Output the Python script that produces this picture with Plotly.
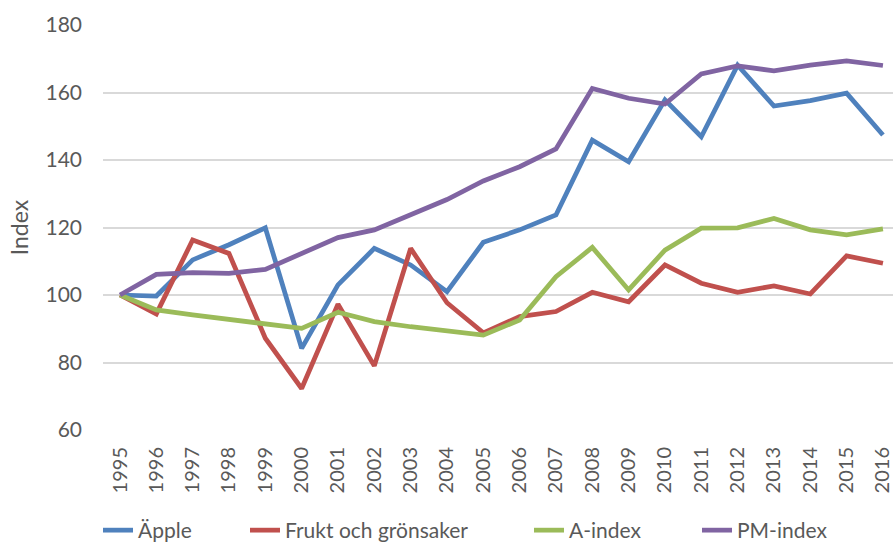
import plotly.graph_objects as go

years = list(range(1995, 2017))
year_labels = [str(y) for y in years]

apple = [100, 99.7, 110.4, 114.9, 119.9, 84.2, 103.0, 113.8, 108.9, 101.0, 115.6,
         119.3, 123.7, 145.9, 139.5, 157.8, 146.9, 168.1, 156.0, 157.6, 159.8, 147.4]
frukt = [100, 94.4, 116.3, 112.3, 87.2, 72.3, 97.3, 79.0, 113.8, 97.7, 88.8,
         93.6, 95.1, 100.8, 98.0, 108.9, 103.5, 100.8, 102.7, 100.3, 111.6, 109.4]
a_index = [100, 95.6, 94.1, 92.8, 91.6, 90.1, 94.9, 92.1, 90.6, 89.3, 88.1,
           92.6, 105.4, 114.1, 101.5, 113.3, 119.8, 119.9, 122.7, 119.3, 117.8, 119.6]
pm_index = [100, 106.1, 106.6, 106.4, 107.6, 112.3, 117.0, 119.3, 123.9, 128.3, 133.8,
            138.0, 143.3, 161.2, 158.3, 156.6, 165.5, 167.9, 166.4, 168.1, 169.4, 168.0]

series_names = ["Äpple", "Frukt och grönsaker", "A-index", "PM-index"]
series_values = [apple, frukt, a_index, pm_index]
series_colors = ["#4F81BD", "#C0504D", "#9BBB59", "#8064A2"]

y_ticks = [60, 80, 100, 120, 140, 160, 180]

W, H = 893, 543
legend_text_px = [138, 285, 569, 737]
legend_ids = ["legend", "legend2", "legend3", "legend4"]

fig = go.Figure()
for name, vals, col, lid in zip(series_names, series_values, series_colors, legend_ids):
    fig.add_trace(go.Scatter(x=years, y=vals, name=name, mode="lines",
                             line=dict(color=col, width=4.75), legend=lid))

font_family = "Lato, 'Open Sans', sans-serif"
legend_font = dict(size=21, color="#595959", family=font_family)
legend_layout = {}
for lid, tx in zip(legend_ids, legend_text_px):
    legend_layout[lid] = dict(
        orientation="h", xref="container", x=(tx - 40) / W, xanchor="left",
        yref="container", y=1 - 510 / H, yanchor="top", font=legend_font,
        bgcolor="rgba(0,0,0,0)", borderwidth=0, itemwidth=30,
    )

fig.update_layout(
    width=W, height=H,
    margin=dict(l=103, r=0, t=25, b=113),
    plot_bgcolor="white", paper_bgcolor="white",
    font=dict(family=font_family, color="#595959", size=21),
    showlegend=True,
    xaxis=dict(range=[1994.532, 2016.277], tickmode="array", tickvals=years,
               ticktext=year_labels, tickangle=-90, showgrid=False, zeroline=False,
               showline=False, ticks="", automargin=False, ticklabelstandoff=12,
               ticklabeloverflow="allow",
               tickfont=dict(size=20, color="#595959", family=font_family)),
    yaxis=dict(range=[60, 180], tickmode="array", tickvals=y_ticks,
               showgrid=True, gridcolor="#D9D9D9", gridwidth=2, zeroline=False,
               showline=False, ticks="", automargin=False, ticklabelstandoff=20,
               title=dict(text="Index", font=dict(size=23, color="#595959", family=font_family),
                          standoff=10),
               tickfont=dict(size=21, color="#595959", family=font_family)),
    **legend_layout,
)
fig.write_html("out.html", config={"displayModeBar": False},
               post_script="document.body.style.margin='0';")
